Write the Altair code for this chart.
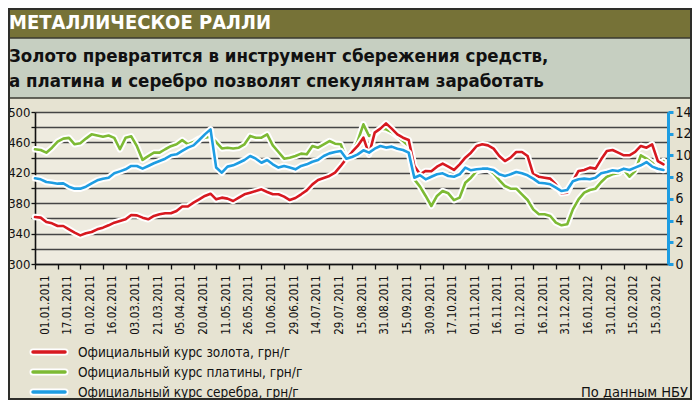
import altair as alt
import pandas as pd

# ---------------- data ----------------
x_labels = ["01.01.2011", "17.01.2011", "01.02.2011", "16.02.2011", "03.03.2011", "21.03.2011",
            "05.04.2011", "20.04.2011", "11.05.2011", "26.05.2011", "10.06.2011", "29.06.2011",
            "14.07.2011", "29.07.2011", "15.08.2011", "31.08.2011", "15.09.2011", "30.09.2011",
            "17.10.2011", "01.11.2011", "16.11.2011", "01.12.2011", "16.12.2011", "31.12.2011",
            "16.01.2012", "31.01.2012", "15.02.2012", "15.03.2012"]

gold = [361.8, 361.0, 355.3, 353.5, 350.0, 350.0, 345.6, 341.2, 337.7, 340.4,
        342.1, 345.6, 347.8, 350.9, 354.4, 356.6, 358.8, 364.5, 364.0, 361.0,
        358.8, 363.2, 365.4, 366.7, 366.7, 369.8, 375.6, 375.6, 380.7, 385.1,
        389.5, 392.5, 385.1, 387.3, 386.0, 382.9, 387.3, 391.7, 393.9, 396.0,
        398.2, 394.7, 391.7, 391.7, 388.6, 384.2, 386.8, 391.7, 396.9, 404.8,
        410.5, 413.2, 415.8, 420.2, 429.0, 438.6, 447.4, 455.3, 466.2, 444.3,
        472.8, 478.1, 485.1, 478.1, 470.6, 466.2, 463.2, 429.0, 418.0, 422.4,
        422.0, 428.0, 432.0, 428.0, 423.7, 431.1, 439.9, 446.5, 455.3, 457.5,
        456.1, 451.8, 442.1, 435.5, 439.9, 447.4, 447.4, 442.1, 418.0, 414.9,
        413.6, 412.3, 404.8, 393.0, 393.9, 409.2, 422.4, 423.7, 426.8, 425.5,
        437.7, 448.7, 450.0, 446.5, 443.0, 443.0, 447.4, 455.3, 453.0, 457.5,
        435.5, 431.0]

platinum = [450.9, 450.0, 446.5, 453.0, 461.0, 465.0, 466.0, 457.5, 459.0, 465.0,
            470.6, 469.0, 467.5, 469.0, 466.0, 451.0, 466.0, 468.0, 455.0, 437.0,
            442.0, 446.5, 446.5, 451.0, 455.0, 457.5, 463.0, 457.5, 460.5, 465.0,
            466.0, 467.5, 460.5, 452.0, 453.0, 452.0, 453.0, 457.5, 468.5, 466.2,
            466.2, 470.6, 456.1, 447.4, 438.6, 439.9, 442.1, 445.2, 444.3, 455.3,
            453.1, 457.5, 461.8, 458.3, 457.5, 438.6, 446.5, 461.8, 483.8, 468.4,
            470.6, 478.1, 477.2, 473.7, 468.4, 461.8, 455.3, 411.4, 401.8, 389.5,
            376.3, 389.5, 396.0, 393.0, 384.0, 387.3, 407.0, 413.6, 422.4, 423.7,
            424.6, 419.3, 410.5, 402.6, 399.1, 399.1, 391.7, 384.2, 371.9, 365.4,
            365.4, 363.2, 354.4, 350.9, 352.2, 371.9, 385.1, 393.9, 397.4, 399.1,
            407.9, 414.9, 418.0, 419.3, 423.7, 414.9, 422.4, 443.0, 438.6, 433.3,
            424.6, 435.5]

silver = [7.89, 7.80, 7.55, 7.49, 7.40, 7.43, 7.12, 6.94, 6.94, 7.12,
          7.43, 7.71, 7.86, 7.95, 8.35, 8.53, 8.72, 9.03, 9.03, 8.78,
          9.03, 9.28, 9.49, 9.70, 10.01, 10.10, 10.41, 10.72, 10.93, 11.42,
          11.94, 12.40, 8.88, 8.41, 8.97, 9.09, 9.33, 9.58, 9.95, 9.70,
          9.33, 9.58, 9.18, 8.88, 9.03, 8.88, 8.72, 9.03, 9.18, 9.42,
          9.58, 9.95, 10.19, 10.32, 10.41, 9.70, 9.86, 10.10, 10.47, 10.26,
          10.62, 10.87, 10.72, 10.81, 10.62, 10.50, 10.26, 7.95, 8.17, 7.80,
          8.04, 8.26, 8.35, 8.11, 8.04, 8.26, 8.88, 8.63, 8.72, 8.78,
          8.78, 8.66, 8.26, 8.11, 8.26, 8.48, 8.35, 8.17, 7.86, 7.49,
          7.43, 7.34, 7.03, 6.72, 6.82, 7.62, 7.80, 7.86, 7.80, 7.95,
          8.35, 8.48, 8.63, 8.57, 8.78, 8.66, 8.88, 9.09, 9.39, 8.97,
          8.78, 8.66]

left_ticks = [300, 320, 340, 360, 380, 400, 420, 440, 460, 480, 500]
right_ticks = [0, 2, 4, 6, 8, 10, 12, 14]

TITLE = "МЕТАЛЛИЧЕСКОЕ РАЛЛИ"
SUB1 = "Золото превратится в инструмент сбережения средств,"
SUB2 = "а платина и серебро позволят спекулянтам заработать"
legend_labels = ["Официальный курс золота, грн/г",
                 "Официальный курс платины, грн/г",
                 "Официальный курс серебра, грн/г"]
SOURCE = "По данным НБУ"

# ---------------- styles ----------------
RED, GREEN, BLUE = "#D71920", "#7DBA34", "#1E9DE2"
FONT = "DejaVu Sans Condensed, Liberation Sans Narrow, sans-serif"
W, H = 633, 152
PAD = {"left": 27, "right": 24, "top": 104, "bottom": 136}

df = pd.DataFrame({"k": list(range(len(gold))), "gold": gold, "plat": platinum, "silver": silver})
one = pd.DataFrame({"a": [0]})

label_js = "[" + ",".join("'" + l + "'" for l in x_labels) + "]"
x_enc = alt.X("k:Q",
              scale=alt.Scale(domain=[0, 111.8], nice=False, zero=False),
              axis=alt.Axis(values=[4 * i for i in range(len(x_labels))],
                            labelExpr=label_js + "[round(datum.value/4)]",
                            labelAngle=270, labelAlign="right", labelBaseline="middle",
                            labelOffset=10, labelPadding=6, labelFont=FONT, labelFontSize=11.5,
                            labelColor="#111111", tickColor="#111111", tickSize=5, tickWidth=1.3,
                            domainColor="#111111", domainWidth=1.6, grid=False, title=None,
                            labelOverlap=False))

yl_scale = alt.Scale(domain=[300, 500], nice=False, zero=False)
yl_axis = alt.Axis(orient="left", values=left_ticks,
                   labelExpr="(datum.value - 300) % 40 == 0 ? datum.label : ''",
                   grid=True, gridColor="#454545", gridWidth=1.3,
                   domainColor="#111111", domainWidth=1.6, tickColor="#111111",
                   tickSize=4, tickWidth=1.3, labelFont=FONT, labelFontSize=13,
                   labelColor="#111111", labelPadding=1, title=None, labelOverlap=False)
yr_axis = alt.Axis(orient="right", values=right_ticks, grid=False,
                   domainColor=BLUE, domainWidth=3, tickColor=BLUE, tickWidth=3, tickSize=5,
                   labelFont=FONT, labelFontSize=14, labelColor="#111111", labelPadding=2,
                   title=None, labelOverlap=False)


def series(field, color, scale, axis):
    y = alt.Y(field + ":Q", scale=scale, axis=axis)
    halo = alt.Chart(df).mark_line(color="white", strokeWidth=6.5, strokeJoin="round",
                                   strokeCap="round").encode(x=x_enc, y=y)
    line = alt.Chart(df).mark_line(color=color, strokeWidth=2.6, strokeJoin="round",
                                   strokeCap="round").encode(x=x_enc, y=y)
    return [halo, line]


left = alt.layer(*(series("plat", GREEN, yl_scale, yl_axis) + series("gold", RED, yl_scale, yl_axis)))
right = alt.layer(*series("silver", BLUE, alt.Scale(domain=[0, 14], nice=False, zero=False), yr_axis))

L, R = -PAD["left"], W + PAD["right"]
TOP = -PAD["top"]
BOTTOM = H + PAD["bottom"]


def box(y0, y1, fill):
    return alt.Chart(one).mark_rect(fill=fill).encode(
        x=alt.value(L), x2=alt.value(R), y=alt.value(y0), y2=alt.value(y1))


def hline(yv, color, width):
    return alt.Chart(one).mark_rule(color=color, strokeWidth=width).encode(
        x=alt.value(L), x2=alt.value(R), y=alt.value(yv))


def text(s, xv, yv, size, weight="normal", color="#111111", align="left"):
    return alt.Chart(one).mark_text(text=s, font=FONT, fontSize=size, fontWeight=weight,
                                    color=color, align=align, baseline="alphabetic").encode(
        x=alt.value(xv), y=alt.value(yv))


decor = [
    box(TOP, -74, "#767237"),
    box(-74, -14, "#C6CFC1"),
    hline(-74, "#3a3a30", 1.5),
    hline(-14, "#3a3a30", 1.5),
    text(TITLE, -26, -83, 20, "bold", "white"),
    text(SUB1, -26, -50.5, 18.5, "bold", "#111111"),
    text(SUB2, -26, -25.5, 18.5, "bold", "#111111"),
]

legend = []
leg_y = [245, 265, 285]
for lab, col, yy in zip(legend_labels, [RED, GREEN, BLUE], leg_y):
    legend.append(alt.Chart(one).mark_rule(color="white", strokeWidth=7, strokeCap="round").encode(
        x=alt.value(-2), x2=alt.value(30), y=alt.value(yy - 5)))
    legend.append(alt.Chart(one).mark_rule(color=col, strokeWidth=3.5, strokeCap="round").encode(
        x=alt.value(-2), x2=alt.value(30), y=alt.value(yy - 5)))
    legend.append(text(lab, 43, yy, 13.5))
legend.append(text(SOURCE, 653, 285, 14.5, align="right"))

border = alt.Chart(one).mark_rect(fillOpacity=0, stroke="#2e2e2a", strokeWidth=2).encode(
    x=alt.value(L + 1), x2=alt.value(R - 1), y=alt.value(TOP + 1), y2=alt.value(BOTTOM - 1))

chart = alt.layer(*decor, left, right, *legend, border).resolve_scale(y="independent").properties(
    width=W, height=H, padding=PAD, autosize=alt.AutoSizeParams(type="none"),
    background="#E6E3D2"
).configure_view(fill="#EEEBDF", stroke=None)

chart.save("out.html", embed_options={"renderer": "svg", "actions": False})
